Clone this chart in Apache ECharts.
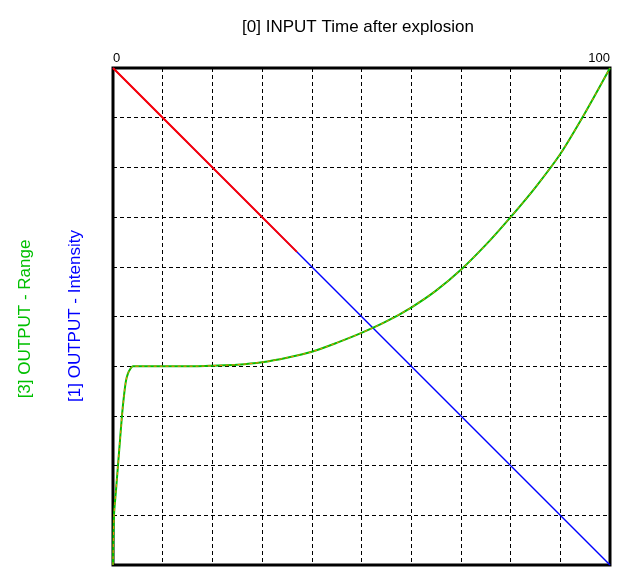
<!DOCTYPE html>
<html>
<head>
<meta charset="utf-8">
<script src="https://cdn.jsdelivr.net/npm/echarts@6/dist/echarts.min.js"></script>
<style>html,body{margin:0;padding:0;background:#fff}#c{width:620px;height:576px}</style>
</head>
<body>
<div id="c"></div>
<script>
var timeRange = [0, 0.2, 0.6, 1, 1.4, 1.8, 2.2, 2.6, 3, 3.5, 4, 6, 10, 14, 17, 20, 25, 30, 35, 40, 45, 50, 55, 60, 65, 70, 75, 80, 85, 90, 95, 100];
var rangeValues = [0, 10, 15, 20, 25, 30, 34, 37, 38.5, 39.5, 40, 40, 40, 40, 40, 40.1, 40.3, 40.8, 41.7, 42.9, 44.7, 46.7, 49.0, 51.8, 55.2, 59.4, 64.4, 70, 76, 82.7, 91, 100];
var timeIntensity = [0, 100];
var intensityValues = [100, 0];
var timeIntensityRed = [0, 37];
var intensityRedValues = [100, 63];
var xTickLabels = ['0', '100'];

function pairs(xs, ys) { return xs.map(function (x, i) { return [x, ys[i]]; }); }

var chart = echarts.init(document.getElementById('c'), null, {renderer: 'canvas'});
var font = '"Liberation Sans", Arial, sans-serif';
chart.setOption({
  animation: false,
  grid: {left: 113, top: 68, width: 497, height: 497, show: true, borderColor: '#000', borderWidth: 3, backgroundColor: 'transparent'},
  xAxis: {
    type: 'value', position: 'top', min: 0, max: 100, interval: 10,
    axisLine: {show: false}, axisTick: {show: false},
    axisLabel: {
      show: true, margin: 3, color: '#000', fontSize: 13, fontFamily: font,
      alignMinLabel: 'left', alignMaxLabel: 'right',
      formatter: function (v) { return v === 0 ? xTickLabels[0] : (v === 100 ? xTickLabels[1] : ''); }
    },
    splitLine: {show: true, lineStyle: {color: '#000', type: [4, 3], width: 1}}
  },
  yAxis: {
    type: 'value', min: 0, max: 100, interval: 10,
    axisLine: {show: false}, axisTick: {show: false}, axisLabel: {show: false},
    splitLine: {show: true, lineStyle: {color: '#000', type: [4, 3], width: 1}}
  },
  graphic: [
    {type: 'text', x: 358, y: 27, style: {text: '[0] INPUT Time after explosion', font: '17px ' + font, fill: '#000', align: 'center', verticalAlign: 'middle'}},
    {type: 'text', x: 25, y: 319, rotation: Math.PI / 2, style: {text: '[3] OUTPUT - Range', font: '17px ' + font, fill: '#00c000', align: 'center', verticalAlign: 'middle'}},
    {type: 'text', x: 75, y: 316, rotation: Math.PI / 2, style: {text: '[1] OUTPUT - Intensity', font: '17px ' + font, fill: '#0000ff', align: 'center', verticalAlign: 'middle'}}
  ],
  series: [
    {type: 'line', data: pairs(timeIntensity, intensityValues), symbol: 'none', lineStyle: {color: '#0000ff', width: 1.5}, z: 3},
    {type: 'line', data: pairs(timeIntensityRed, intensityRedValues), symbol: 'none', lineStyle: {color: '#ff0000', width: 2}, z: 4},
    {type: 'line', data: pairs(timeRange, rangeValues), symbol: 'none', smooth: 0.25, lineStyle: {color: '#00c000', width: 2}, z: 5},
    {type: 'line', data: pairs(timeRange, rangeValues), symbol: 'none', smooth: 0.25, lineStyle: {color: '#ff8000', width: 1, type: [3, 3]}, z: 6}
  ]
});
</script>
</body>
</html>
